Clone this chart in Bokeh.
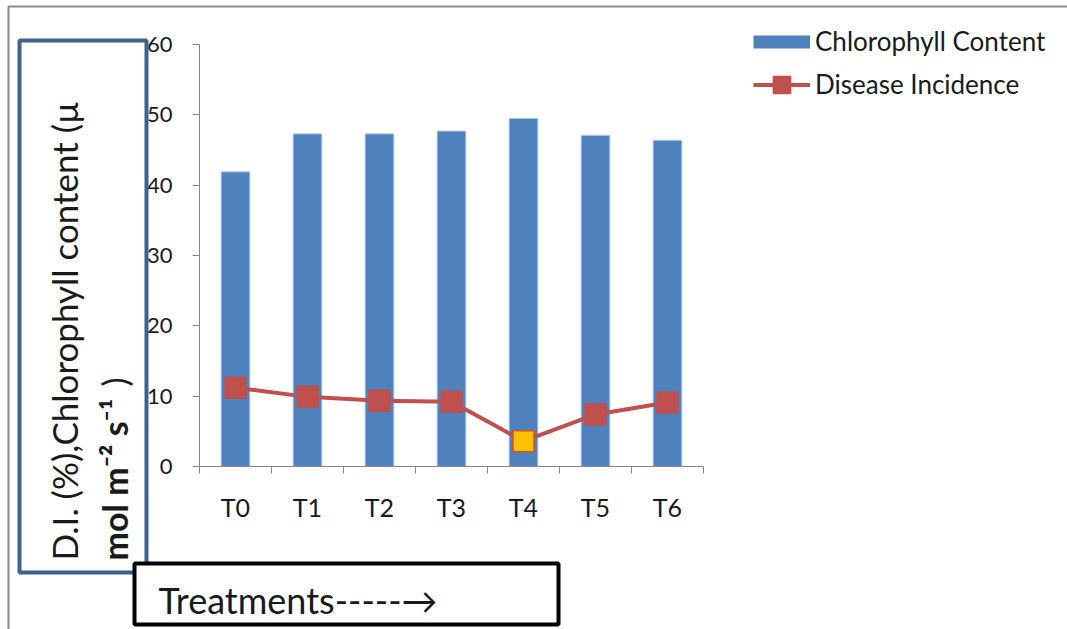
import math
from bokeh.plotting import figure
from bokeh.models import (ColumnDataSource, Range1d, FixedTicker, Label,
                          BoxAnnotation, Legend, LegendItem)
from bokeh.embed import file_html
from bokeh.resources import INLINE

# ---- data ----
treatments = ["T0", "T1", "T2", "T3", "T4", "T5", "T6"]
chlorophyll = [41.9, 47.3, 47.3, 47.7, 49.5, 47.1, 46.4]
disease_incidence = [11.2, 9.9, 9.35, 9.2, 3.6, 7.4, 9.1]
y_ticks = [0, 10, 20, 30, 40, 50, 60]
highlight = "T4"

# ---- layout (pixels) ----
W, H = 1067, 629
PL, PR, PT, PB = 199, 703, 44, 466   # plot-area left/right/top/bottom on canvas

BAR = "#4f81bd"
RED = "#c0504d"
TXT = "#1a1a1a"
AX = "#868686"
FONT = "Lato"

n = len(treatments)
xs = list(range(n))
x0, x1 = -0.5, n - 0.5
y0, y1 = y_ticks[0], y_ticks[-1]
kx = (PR - PL) / (x1 - x0)
ky = (PB - PT) / (y1 - y0)

fill_cols = ["#ffc000" if t == highlight else RED for t in treatments]
line_cols = ["#d9541e" if t == highlight else RED for t in treatments]
src = ColumnDataSource(dict(x=xs, chl=chlorophyll, di=disease_incidence,
                            fc=fill_cols, lc=line_cols))

# the frame spans the whole canvas; the axes are pinned inside it
p = figure(width=W, height=H, output_backend="svg", toolbar_location=None,
           x_range=Range1d(x0 - PL / kx, x1 + (W - PR) / kx),
           y_range=Range1d(y0 - (H - PB) / ky, y1 + PT / ky),
           min_border=0, min_border_left=0, min_border_right=0,
           min_border_top=0, min_border_bottom=0)
p.title.visible = False
p.grid.visible = False
p.outline_line_color = None
p.background_fill_color = "white"
p.border_fill_color = "white"

xa = p.xaxis[0]
xa.fixed_location = y0
xa.bounds = (x0, x1)
xa.ticker = FixedTicker(ticks=xs, minor_ticks=[i - 0.5 for i in range(n + 1)])
xa.major_label_overrides = {i: t for i, t in enumerate(treatments)}
xa.major_tick_out = 0
xa.major_tick_in = 0
xa.minor_tick_out = 7
xa.minor_tick_in = 0
xa.minor_tick_line_color = AX
xa.axis_line_color = AX
xa.major_label_text_font = FONT
xa.major_label_text_font_size = "25px"
xa.major_label_text_color = TXT
xa.major_label_standoff = 18

ya = p.yaxis[0]
ya.fixed_location = x0
ya.bounds = (y0, y1)
ya.ticker = FixedTicker(ticks=y_ticks, minor_ticks=[])
ya.major_tick_out = 7
ya.major_tick_in = 0
ya.major_tick_line_color = AX
ya.axis_line_color = AX
ya.minor_tick_line_color = None
ya.major_label_text_font = FONT
ya.major_label_text_font_size = "22px"
ya.major_label_text_color = TXT
ya.major_label_standoff = 20

# ---- glyphs ----
p.vbar(x="x", top="chl", width=0.4, source=src, fill_color=BAR,
       line_color="#bcd0e8", line_width=1)
line_r = p.line(x="x", y="di", source=src, line_color=RED, line_width=4)
sc_r = p.scatter(x="x", y="di", source=src, marker="square", size=21,
                 fill_color="fc", line_color="lc", line_width=1.5)
# legend swatch for the bars (a single-point line draws nothing on the plot)
swatch = p.line(x=[xs[0]], y=[y0], line_color=BAR, line_width=13)

LEG_TOP, ROW = 19.5, 43
legend = Legend(items=[LegendItem(label="Chlorophyll Content", renderers=[swatch]),
                       LegendItem(label="Disease Incidence", renderers=[line_r, sc_r])],
                location=(753, H - (LEG_TOP + 2 * ROW)),
                glyph_width=57, glyph_height=ROW,
                label_height=ROW, label_standoff=5, padding=0, margin=0, spacing=0,
                border_line_color=None, background_fill_alpha=0,
                label_text_font=FONT, label_text_font_size="26px",
                label_text_color=TXT)
p.add_layout(legend, "center")


def sbox(l, r, t, b, **kw):
    return BoxAnnotation(left=l, right=r, top=H - t, bottom=H - b,
                         left_units="screen", right_units="screen",
                         top_units="screen", bottom_units="screen",
                         line_alpha=1, **kw)


p.add_layout(sbox(8, W + 20, 6, H + 20, fill_alpha=0, line_color="#8c8c8c",
                  line_width=2))
p.add_layout(sbox(19, 146, 40, 572, fill_color="white", fill_alpha=1,
                  line_color="#3d6190", line_width=4))
p.add_layout(sbox(134, 558, 563, 624, fill_color="white", fill_alpha=1,
                  line_color="black", line_width=4))


def slabel(x, y, text, **kw):
    return Label(x=x, y=H - y, x_units="screen", y_units="screen",
                 text=text, text_font=FONT, text_color=TXT, **kw)


p.add_layout(slabel(63, 560, "D.I. (%),Chlorophyll content (µ", angle=math.pi / 2,
                    text_font_size="35px", text_align="left",
                    text_baseline="middle"))
p.add_layout(slabel(114, 560, "mol m⁻² s⁻¹", angle=math.pi / 2,
                    text_font_size="34px", text_font_style="bold",
                    text_align="left", text_baseline="middle"))
p.add_layout(slabel(114, 386, ")", angle=math.pi / 2,
                    text_font_size="34px",
                    text_align="left", text_baseline="middle"))
p.add_layout(slabel(158, 599, "Treatments-----→", text_font_size="36px",
                    text_align="left", text_baseline="middle"))

open("out.html", "w").write(file_html(p, INLINE))
